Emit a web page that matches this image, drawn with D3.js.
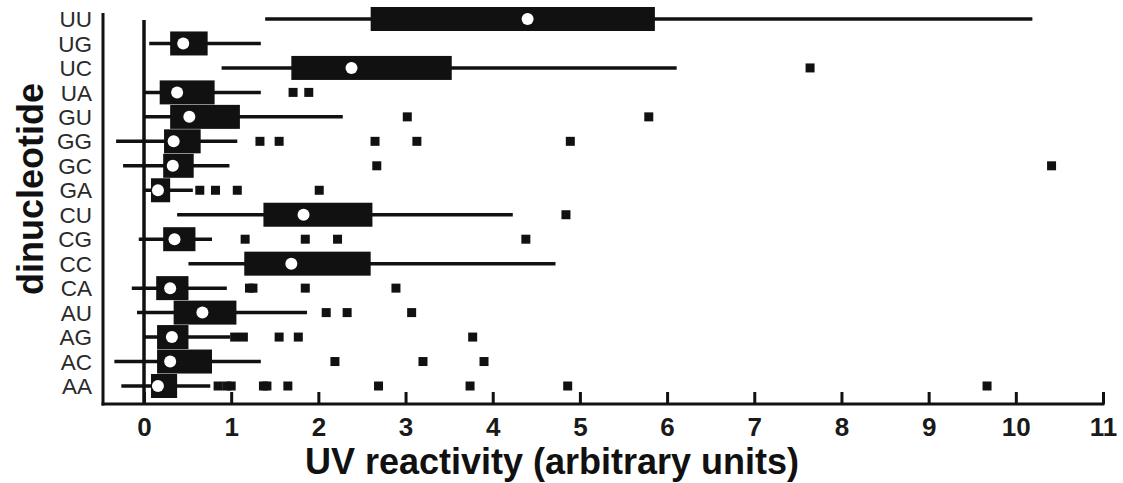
<!DOCTYPE html>
<html>
<head>
<meta charset="utf-8">
<script src="https://cdn.jsdelivr.net/npm/d3@7"></script>
<style>
  body { margin: 0; background: #fff; }
  svg { display: block; }
</style>
</head>
<body>
<div id="chart"></div>
<script>
// rows, top to bottom
var dinucs = ["UU", "UG", "UC", "UA", "GU", "GG", "GC", "GA",
              "CU", "CG", "CC", "CA", "AU", "AG", "AC", "AA"];
var whiskLo = [1.39, 0.06, 0.89, 0.00, 0.00, -0.32, -0.24, 0.00,
               0.38, -0.06, 0.51, -0.14, -0.08, 0.00, -0.34, -0.26];
var q1      = [2.60, 0.30, 1.69, 0.18, 0.30, 0.23, 0.22, 0.08,
               1.37, 0.22, 1.15, 0.14, 0.34, 0.15, 0.15, 0.08];
var medians = [4.40, 0.45, 2.38, 0.38, 0.52, 0.34, 0.33, 0.16,
               1.83, 0.35, 1.69, 0.30, 0.67, 0.32, 0.30, 0.16];
var q3      = [5.86, 0.73, 3.53, 0.81, 1.10, 0.65, 0.57, 0.30,
               2.62, 0.59, 2.60, 0.51, 1.06, 0.51, 0.78, 0.38];
var whiskHi = [10.19, 1.34, 6.11, 1.34, 2.28, 1.07, 0.98, 0.56,
               4.23, 0.78, 4.72, 0.95, 1.87, 0.99, 1.34, 0.76];
var outliers = [
  [],
  [],
  [7.64],
  [1.71, 1.89],
  [3.02, 5.79],
  [1.33, 1.55, 2.65, 3.13, 4.89],
  [2.67, 10.41],
  [0.64, 0.82, 1.07, 2.01],
  [4.84],
  [1.16, 1.85, 2.22, 4.38],
  [],
  [1.21, 1.25, 1.85, 2.89],
  [2.09, 2.33, 3.07],
  [1.04, 1.14, 1.55, 1.77, 3.77],
  [2.19, 3.20, 3.90],
  [0.85, 0.95, 1.00, 1.37, 1.41, 1.65, 2.69, 3.74, 4.86, 9.67]
];
var xTicks = [0, 1, 2, 3, 4, 5, 6, 7, 8, 9, 10, 11];

var width = 1123, height = 483;
var ink = "#111";

var svg = d3.select("#chart").append("svg")
  .attr("width", width)
  .attr("height", height);

var x = d3.scaleLinear().domain([0, 11]).range([144, 1103]);
var y = d3.scalePoint().domain(dinucs).range([19, 386]);
var axisY = 404, frameX = 103, boxH = 24;

var rows = dinucs.map(function(d, i) {
  return { name: d, lo: whiskLo[i], q1: q1[i], med: medians[i],
           q3: q3[i], hi: whiskHi[i], out: outliers[i] };
});

// zero line and frame
svg.append("line")
  .attr("x1", x(0)).attr("x2", x(0))
  .attr("y1", 20).attr("y2", axisY)
  .attr("stroke", ink).attr("stroke-width", 3.5);
svg.append("line")
  .attr("x1", frameX).attr("x2", frameX)
  .attr("y1", 13).attr("y2", axisY + 1.5)
  .attr("stroke", ink).attr("stroke-width", 3);
svg.append("line")
  .attr("x1", frameX - 1.5).attr("x2", x(11) + 1.5)
  .attr("y1", axisY).attr("y2", axisY)
  .attr("stroke", ink).attr("stroke-width", 3);

// x axis ticks
var xa = svg.append("g")
  .attr("transform", "translate(0," + axisY + ")")
  .call(d3.axisBottom(x).tickValues(xTicks).tickSize(-12).tickFormat(d3.format("d")));
xa.select(".domain").remove();
xa.selectAll(".tick line").attr("stroke", ink).attr("stroke-width", 3);
xa.selectAll(".tick text")
  .attr("y", 14).attr("dy", "0.71em")
  .attr("fill", "#1a1a1a")
  .style("font-family", "'Liberation Sans', Arial, sans-serif")
  .style("font-weight", "bold")
  .style("font-size", "26px");

// whiskers
var g = svg.append("g");
g.selectAll("line.whisk").data(rows).enter().append("line")
  .attr("class", "whisk")
  .attr("x1", function(d) { return x(d.lo); })
  .attr("x2", function(d) { return x(d.hi); })
  .attr("y1", function(d) { return y(d.name); })
  .attr("y2", function(d) { return y(d.name); })
  .attr("stroke", ink).attr("stroke-width", 3.5);

// boxes
g.selectAll("rect.box").data(rows).enter().append("rect")
  .attr("class", "box")
  .attr("x", function(d) { return x(d.q1); })
  .attr("width", function(d) { return x(d.q3) - x(d.q1); })
  .attr("y", function(d) { return y(d.name) - boxH / 2; })
  .attr("height", boxH)
  .attr("fill", ink);

// outliers
var pts = [];
rows.forEach(function(d) {
  d.out.forEach(function(v) { pts.push({ name: d.name, v: v }); });
});
g.selectAll("rect.out").data(pts).enter().append("rect")
  .attr("class", "out")
  .attr("x", function(d) { return x(d.v) - 4.5; })
  .attr("y", function(d) { return y(d.name) - 4.5; })
  .attr("width", 9).attr("height", 9)
  .attr("fill", ink);

// medians
g.selectAll("circle.med").data(rows).enter().append("circle")
  .attr("class", "med")
  .attr("cx", function(d) { return x(d.med); })
  .attr("cy", function(d) { return y(d.name); })
  .attr("r", 6)
  .attr("fill", "#fff");

// row labels
svg.append("g").selectAll("text").data(dinucs).enter().append("text")
  .attr("x", 92)
  .attr("y", function(d) { return y(d); })
  .attr("dy", "0.36em")
  .attr("text-anchor", "end")
  .attr("fill", "#2a2a2a")
  .style("font-family", "'Liberation Sans', Arial, sans-serif")
  .style("font-size", "22.5px")
  .text(function(d) { return d; });

// titles
svg.append("text")
  .attr("x", 552).attr("y", 474)
  .attr("text-anchor", "middle")
  .attr("fill", "#111")
  .style("font-family", "'Liberation Sans', Arial, sans-serif")
  .style("font-weight", "bold")
  .style("font-size", "36px")
  .text("UV reactivity (arbitrary units)");

svg.append("text")
  .attr("transform", "translate(43,189) rotate(-90)")
  .attr("text-anchor", "middle")
  .attr("fill", "#111")
  .style("font-family", "'Liberation Sans', Arial, sans-serif")
  .style("font-weight", "bold")
  .style("font-size", "36px")
  .text("dinucleotide");
</script>
</body>
</html>
